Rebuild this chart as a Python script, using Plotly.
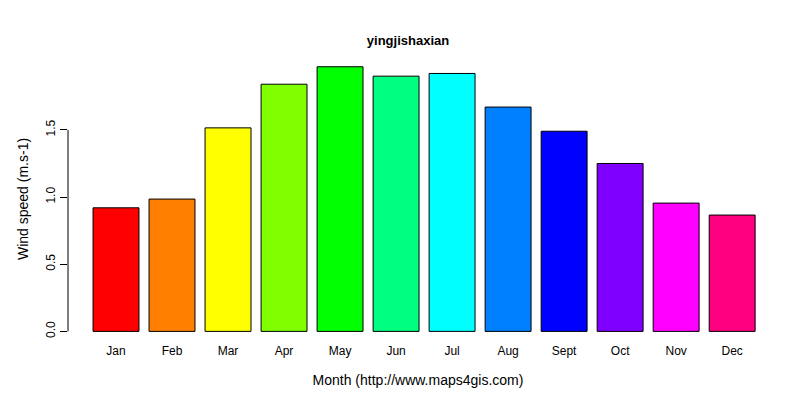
import plotly.graph_objects as go

months = ["Jan", "Feb", "Mar", "Apr", "May", "Jun", "Jul", "Aug", "Sept", "Oct", "Nov", "Dec"]
wind = [0.92, 0.985, 1.515, 1.84, 1.97, 1.90, 1.92, 1.67, 1.49, 1.25, 0.955, 0.866]
colors = ["#FF0000", "#FF8000", "#FFFF00", "#80FF00", "#00FF00", "#00FF80",
          "#00FFFF", "#0080FF", "#0000FF", "#8000FF", "#FF00FF", "#FF0080"]
y_ticks = [0.0, 0.5, 1.0, 1.5]

font = dict(family="Liberation Sans, Arial, sans-serif", size=12, color="black")

fig = go.Figure(go.Bar(
    x=months, y=wind,
    marker=dict(color=colors, line=dict(color="black", width=1)),
))

fig.update_layout(
    width=800, height=400,
    margin=dict(l=60, r=40, t=48, b=66),
    paper_bgcolor="white", plot_bgcolor="white",
    font=font,
    bargap=0.18,
    showlegend=False,
    title=dict(text="<b>yingjishaxian</b>", x=0.5, xanchor="center",
               y=0.92, yanchor="middle", font=dict(size=13)),
    xaxis=dict(range=[-0.857, 11.64], showline=False, showgrid=False,
               ticks="", tickfont=dict(size=12),
               title=dict(text="Month (http://www.maps4gis.com)", standoff=18)),
    yaxis=dict(range=[-0.079, 2.05], showline=False, showgrid=False, zeroline=False,
               tickvals=y_ticks, ticktext=[f"{v:.1f}" for v in y_ticks],
               ticks="outside", ticklen=7, tickcolor="black", tickangle=-90,
               title=dict(text="Wind speed (m.s-1)", standoff=12)),
)

fig.add_shape(type="line", xref="paper", yref="y", x0=0, x1=0,
              y0=y_ticks[0], y1=y_ticks[-1], line=dict(color="black", width=1))

fig.write_html("out.html")
